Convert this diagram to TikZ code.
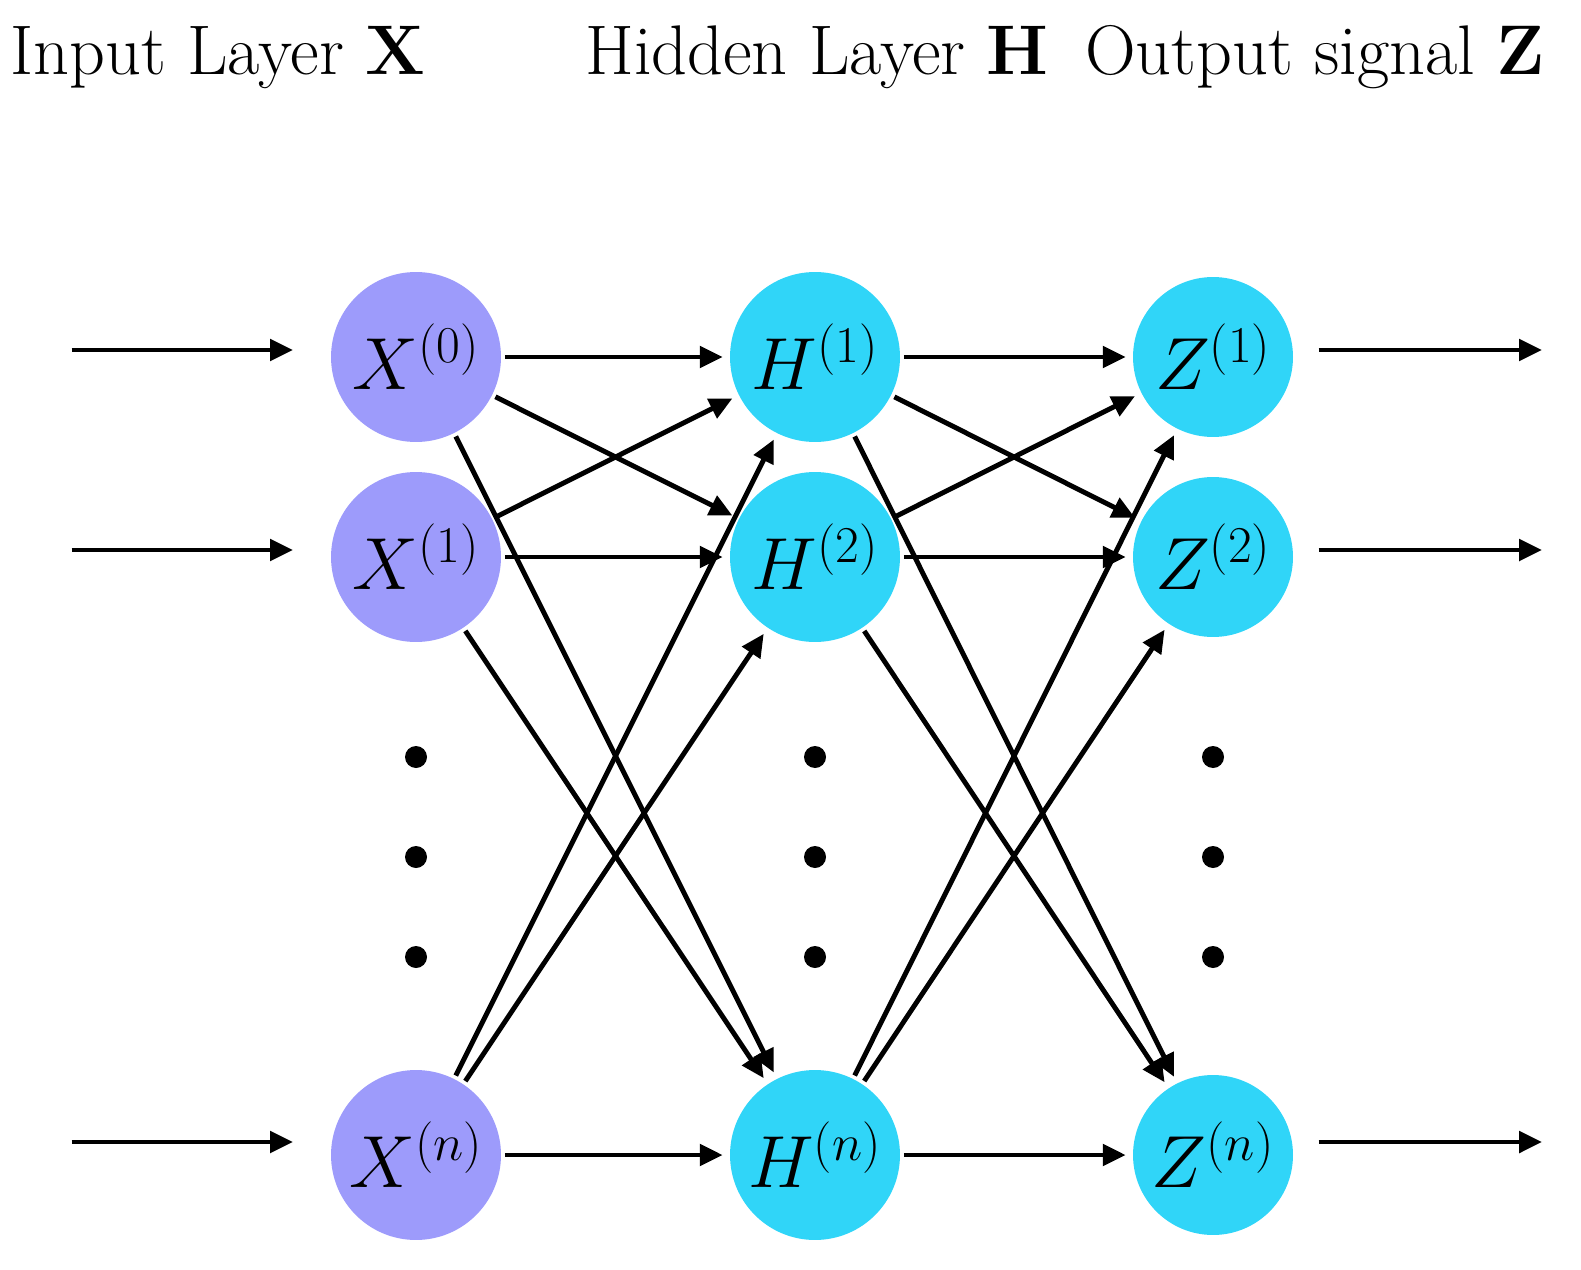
\RequirePackage{fix-cm}
\documentclass[tikz,border=0pt]{standalone}
\usepackage{amsmath}
\usetikzlibrary{arrows.meta}
\definecolor{xcol}{HTML}{9D9BFB}
\definecolor{hcol}{HTML}{30D5F8}
\begin{document}
\begin{tikzpicture}[x=0.02cm,y=-0.02cm,
  neuron/.style={circle,minimum size=3.4cm,inner sep=0pt,font=\fontsize{42}{48}\selectfont},
  zneuron/.style={neuron,minimum size=3.2cm},
  arr/.style={line width=2.8pt,-{Triangle[length=13pt,width=12pt]},shorten >=4pt,shorten <=2pt},
  title/.style={anchor=base west,inner sep=0pt,font=\fontsize{40}{46}\selectfont},
  dot/.style={circle,fill=black,minimum size=0.44cm,inner sep=0pt}]
\useasboundingbox (0,0) rectangle (1581,1270);
\node[title] (t1) at (10,75) {Input Layer $\mathbf{X}$};
\node[title] (t2) at (585,75) {Hidden Layer $\mathbf{H}$};
\node[title] (t3) at (1085,75) {Output signal $\mathbf{Z}$};
\node[neuron,fill=xcol] (x0) at (416,357) {$X^{(0)}$};
\node[neuron,fill=xcol] (x1) at (416,557) {$X^{(1)}$};
\node[neuron,fill=xcol] (xn) at (416,1155) {$X^{(n)}$};
\node[neuron,fill=hcol] (h1) at (815,357) {$H^{(1)}$};
\node[neuron,fill=hcol] (h2) at (815,557) {$H^{(2)}$};
\node[neuron,fill=hcol] (hn) at (815,1155) {$H^{(n)}$};
\node[zneuron,fill=hcol] (z1) at (1213,357) {$Z^{(1)}$};
\node[zneuron,fill=hcol] (z2) at (1213,557) {$Z^{(2)}$};
\node[zneuron,fill=hcol] (zn) at (1213,1155) {$Z^{(n)}$};
\foreach \c in {416,815,1213}{
  \node[dot] (d1\c) at (\c,757) {};
  \node[dot] (d2\c) at (\c,857) {};
  \node[dot] (d3\c) at (\c,957) {};
}
\coordinate (i0) at (68,350); \coordinate (i1) at (68,550); \coordinate (in) at (68,1142);
\coordinate (e0) at (300,350); \coordinate (e1) at (300,550); \coordinate (en) at (300,1142);
\coordinate (s1) at (1315,350); \coordinate (s2) at (1315,550); \coordinate (sn) at (1315,1142);
\coordinate (o1) at (1549,350); \coordinate (o2) at (1549,550); \coordinate (on) at (1549,1142);
\draw[arr] (i0) -- (e0);
\draw[arr] (i1) -- (e1);
\draw[arr] (in) -- (en);
\foreach \a in {x0,x1,xn}{\foreach \b in {h1,h2,hn}{\draw[arr] (\a) -- (\b);}}
\foreach \a in {h1,h2,hn}{\foreach \b in {z1,z2,zn}{\draw[arr] (\a) -- (\b);}}
\draw[arr] (s1) -- (o1);
\draw[arr] (s2) -- (o2);
\draw[arr] (sn) -- (on);
\end{tikzpicture}
\end{document}
